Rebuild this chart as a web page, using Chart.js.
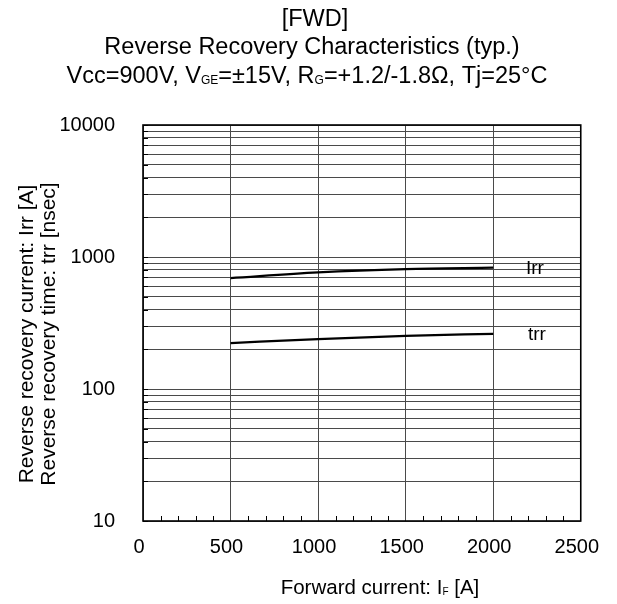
<!DOCTYPE html>
<html><head><meta charset="utf-8">
<script src="https://cdn.jsdelivr.net/npm/chart.js@4"></script>
<style>html,body{margin:0;padding:0;background:#fff}#wrap{width:617px;height:604px}</style>
</head><body><div id="wrap"><canvas id="c" width="617" height="604"></canvas></div>
<script>
const forwardCurrent = [500, 1000, 1500, 2000];
const irrValues = [693, 765, 810, 830];
const trrValues = [223, 239, 253, 262];
const seriesLabels = ['Irr', 'trr'];
const xTicks = [0, 500, 1000, 1500, 2000, 2500];
const xMinorTicks = [100,200,300,400,600,700,800,900,1100,1200,1300,1400,1600,1700,1800,1900,2100,2200,2300,2400];
const yMajorTicks = [10, 100, 1000, 10000];
const yTicks = [10,20,30,40,50,60,70,80,90,100,200,300,400,500,600,700,800,900,1000,2000,3000,4000,5000,6000,7000,8000,9000,10000];

const FONT = '"Liberation Sans", Arial, sans-serif';
const TITLE_FS = 23.5;
const TICK_FS = 20;
const AXIS_FS = 21;

function richText(ctx, segs, cx, y, size) {
  let total = 0;
  const fs = s => (s.sub ? Math.round(size * 0.5) : size);
  const widths = segs.map(s => {
    ctx.font = fs(s) + 'px ' + FONT;
    const w = ctx.measureText(s.t).width; total += w; return w;
  });
  let x = cx - total / 2;
  segs.forEach((s, i) => {
    ctx.font = fs(s) + 'px ' + FONT;
    ctx.fillText(s.t, x, s.sub ? y + 1 : y);
    x += widths[i];
  });
}

const decor = {
  id: 'decor',
  afterDraw(chart) {
    const ctx = chart.ctx, xs = chart.scales.x, ys = chart.scales.y, ca = chart.chartArea;
    ctx.save();
    ctx.fillStyle = '#000';
    ctx.textBaseline = 'alphabetic';
    ctx.textAlign = 'left';
    richText(ctx, [{t:'[FWD]'}], 315, 26, TITLE_FS);
    richText(ctx, [{t:'Reverse Recovery Characteristics (typ.)'}], 312, 54, TITLE_FS);
    richText(ctx, [{t:'Vcc=900V, V'},{t:'GE',sub:true},{t:'=\u00b115V, R'},{t:'G',sub:true},{t:'=+1.2/-1.8\u03a9, Tj=25\u00b0C'}], 307, 83, TITLE_FS);
    richText(ctx, [{t:'Forward current: I'},{t:'F',sub:true},{t:' [A]'}], 380, 594, 20.5);
    // y axis title
    ctx.save();
    ctx.translate(0, 334);
    ctx.rotate(-Math.PI / 2);
    richText(ctx, [{t:'Reverse recovery current: Irr [A]'}], 0, 33, AXIS_FS);
    richText(ctx, [{t:'Reverse recovery time: trr [nsec]'}], 0, 55, AXIS_FS);
    ctx.restore();
    // minor x ticks
    ctx.strokeStyle = '#000'; ctx.lineWidth = 1;
    xMinorTicks.forEach(v => {
      const px = Math.round(xs.getPixelForValue(v)) + 0.5;
      ctx.beginPath(); ctx.moveTo(px, ca.bottom); ctx.lineTo(px, ca.bottom - 5); ctx.stroke();
    });
    // y inward ticks
    yTicks.forEach(v => {
      const py = Math.round(ys.getPixelForValue(v)) + 0.5;
      ctx.beginPath(); ctx.moveTo(ca.left, py); ctx.lineTo(ca.left + 5, py); ctx.stroke();
    });
    // border
    ctx.lineWidth = 1.6;
    ctx.strokeRect(ca.left, ca.top, ca.right - ca.left, ca.bottom - ca.top);
    // series labels
    ctx.font = '19px ' + FONT;
    ctx.fillText(seriesLabels[0], 526, 273.5);
    ctx.fillText(seriesLabels[1], 528, 340);
    ctx.restore();
  }
};

new Chart(document.getElementById('c'), {
  type: 'line',
  data: {
    datasets: [
      { label: seriesLabels[0], data: forwardCurrent.map((x, i) => ({ x, y: irrValues[i] })), borderColor: '#000', borderWidth: 2.3, pointRadius: 0, cubicInterpolationMode: 'monotone' },
      { label: seriesLabels[1], data: forwardCurrent.map((x, i) => ({ x, y: trrValues[i] })), borderColor: '#000', borderWidth: 2.3, pointRadius: 0, cubicInterpolationMode: 'monotone' }
    ]
  },
  options: {
    responsive: false, animation: false, devicePixelRatio: 1,
    layout: { padding: { top: 125, right: 35, left: 0, bottom: 0 } },
    plugins: { legend: { display: false }, title: { display: false }, tooltip: { enabled: false } },
    scales: {
      x: {
        type: 'linear', min: 0, max: 2500,
        afterBuildTicks: s => { s.ticks = xTicks.map(v => ({ value: v })); },
        afterFit: s => { s.height = 83; },
        grid: { color: '#4a4a4a', lineWidth: 1, drawTicks: false },
        border: { display: false },
        ticks: { autoSkip: false, maxRotation: 0, padding: 14, labelOffset: -4, color: '#000',
          font: { family: FONT, size: TICK_FS }, callback: v => String(v) }
      },
      y: {
        type: 'logarithmic', min: 10, max: 10000,
        afterBuildTicks: s => { s.ticks = yTicks.map(v => ({ value: v })); },
        afterFit: s => { s.width = 143; },
        grid: { color: '#4a4a4a', lineWidth: 1, drawTicks: false },
        border: { display: false },
        ticks: { autoSkip: false, padding: 28, color: '#000', font: { family: FONT, size: TICK_FS },
          callback: v => yMajorTicks.includes(v) ? String(v) : '' }
      }
    }
  },
  plugins: [decor]
});
</script>
</body></html>
